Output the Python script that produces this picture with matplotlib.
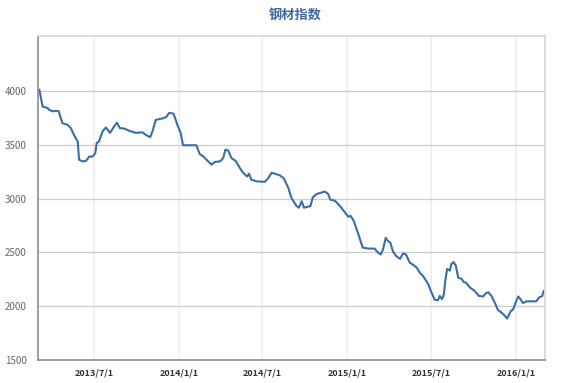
import matplotlib
matplotlib.use("Agg")
import matplotlib.pyplot as plt
import pandas as pd

plt.rcParams['font.family'] = ['Noto Sans CJK SC', 'DejaVu Sans']

title = "钢材指数"

dates = [
    "2013-03-05", "2013-03-12", "2013-03-19", "2013-03-23", "2013-03-26", "2013-04-03", "2013-04-10",
    "2013-04-16", "2013-04-20", "2013-04-24", "2013-05-05", "2013-05-12", "2013-05-19", "2013-05-27",
    "2013-05-30", "2013-06-07", "2013-06-14", "2013-06-21", "2013-06-28", "2013-07-04", "2013-07-07",
    "2013-07-12", "2013-07-20", "2013-07-27", "2013-08-05", "2013-08-14", "2013-08-20", "2013-08-26",
    "2013-09-05", "2013-09-15", "2013-09-30", "2013-10-14", "2013-10-22", "2013-10-31", "2013-11-05",
    "2013-11-12", "2013-11-21", "2013-11-28", "2013-12-05", "2013-12-11", "2013-12-20", "2013-12-23",
    "2013-12-30", "2014-01-05", "2014-01-10", "2014-02-08", "2014-02-15", "2014-02-23", "2014-03-02",
    "2014-03-13", "2014-03-20", "2014-03-31", "2014-04-07", "2014-04-12", "2014-04-18", "2014-04-25",
    "2014-05-04", "2014-05-13", "2014-05-20", "2014-05-29", "2014-06-02", "2014-06-07", "2014-06-18",
    "2014-07-06", "2014-07-13", "2014-07-21", "2014-07-28", "2014-08-08", "2014-08-16", "2014-08-26",
    "2014-09-02", "2014-09-13", "2014-09-18", "2014-09-24", "2014-09-29", "2014-10-08", "2014-10-13",
    "2014-10-18", "2014-10-23", "2014-10-28", "2014-11-02", "2014-11-13", "2014-11-20", "2014-11-25",
    "2014-12-05", "2014-12-16", "2014-12-27", "2015-01-03", "2015-01-08", "2015-01-15", "2015-01-24",
    "2015-02-03", "2015-02-15", "2015-03-01", "2015-03-09", "2015-03-14", "2015-03-19", "2015-03-25",
    "2015-03-30", "2015-04-04", "2015-04-10", "2015-04-17", "2015-04-25", "2015-05-02", "2015-05-08",
    "2015-05-16", "2015-05-23", "2015-05-31", "2015-06-07", "2015-06-14", "2015-06-25", "2015-07-02",
    "2015-07-09", "2015-07-16", "2015-07-20", "2015-07-25", "2015-07-29", "2015-08-01", "2015-08-05",
    "2015-08-11", "2015-08-14", "2015-08-19", "2015-08-24", "2015-08-29", "2015-09-05", "2015-09-10",
    "2015-09-16", "2015-09-23", "2015-10-04", "2015-10-13", "2015-10-22", "2015-10-28", "2015-11-02",
    "2015-11-09", "2015-11-16", "2015-11-23", "2015-12-01", "2015-12-08", "2015-12-13", "2015-12-21",
    "2015-12-26", "2016-01-01", "2016-01-06", "2016-01-11", "2016-01-16", "2016-01-24", "2016-02-14",
    "2016-02-20", "2016-02-27", "2016-03-01",
]

values = [
    4010, 3855, 3845, 3840, 3825, 3810, 3815,
    3810, 3750, 3700, 3685, 3655, 3590, 3530,
    3360, 3345, 3350, 3390, 3390, 3420, 3515,
    3530, 3625, 3660, 3610, 3670, 3705, 3655,
    3650, 3630, 3610, 3615, 3590, 3570, 3625,
    3730, 3740, 3745, 3760, 3795, 3790, 3760,
    3670, 3610, 3495, 3495, 3415, 3390, 3360,
    3315, 3340, 3345, 3375, 3455, 3445, 3375,
    3350, 3285, 3240, 3205, 3230, 3175, 3160,
    3155, 3185, 3240, 3230, 3215, 3190, 3100,
    3005, 2930, 2915, 2975, 2915, 2925, 2930,
    3010, 3030, 3045, 3050, 3065, 3045, 2990,
    2980, 2930, 2870, 2830, 2840, 2790, 2680,
    2545, 2535, 2535, 2495, 2480, 2525, 2635,
    2605, 2590, 2505, 2465, 2440, 2490, 2480,
    2405, 2385, 2360, 2310, 2280, 2205, 2130,
    2060, 2055, 2095, 2065, 2110, 2235, 2345,
    2330, 2390, 2410, 2375, 2265, 2255, 2225,
    2215, 2175, 2140, 2095, 2090, 2120, 2130,
    2095, 2035, 1965, 1940, 1910, 1885, 1955,
    1970, 2040, 2090, 2065, 2030, 2045, 2045,
    2080, 2095, 2140,
]

tick_dates = ["2013-07-01", "2014-01-01", "2014-07-01", "2015-01-01", "2015-07-01", "2016-01-01"]
tick_labels = ["2013/7/1", "2014/1/1", "2014/7/1", "2015/1/1", "2015/7/1", "2016/1/1"]
y_ticks = [1500, 2000, 2500, 3000, 3500, 4000]

x = pd.to_datetime(dates)

fig = plt.figure(figsize=(5.63, 3.83), dpi=100)
ax = fig.add_axes([38/563, 23/383, (545-38)/563, (360-36)/383])

ax.plot(x, values, color="#3b6da6", linewidth=1.5, solid_joinstyle="round")

ax.set_xlim(pd.Timestamp("2013-03-02"), pd.Timestamp("2016-03-04"))
ax.set_ylim(1500, 4510)

ax.set_yticks(y_ticks)
ax.set_yticklabels([str(v) for v in y_ticks], fontsize=7, color="#666666")
ax.set_xticks(pd.to_datetime(tick_dates))
ax.set_xticklabels(tick_labels, fontsize=6.5, color="#333333", fontweight="bold")
ax.tick_params(axis="both", length=0)
ax.tick_params(axis="y", pad=8)
ax.tick_params(axis="x", pad=6)

ax.grid(axis="y", color="#cccccc", linewidth=0.9)
ax.grid(axis="x", color="#eeeeee", linewidth=1.2)
ax.set_axisbelow(True)

for side in ["top", "right"]:
    ax.spines[side].set_color("#d5d5d5")
    ax.spines[side].set_linewidth(1.2)
for side in ["left", "bottom"]:
    ax.spines[side].set_color("#8c8c8c")
    ax.spines[side].set_linewidth(1.2)

fig.text(0.525, 1 - 15/383, title, ha="center", va="center", fontsize=9.5,
         color="#3d6aa3", fontweight="bold")

fig.savefig("out.png", dpi=100)
